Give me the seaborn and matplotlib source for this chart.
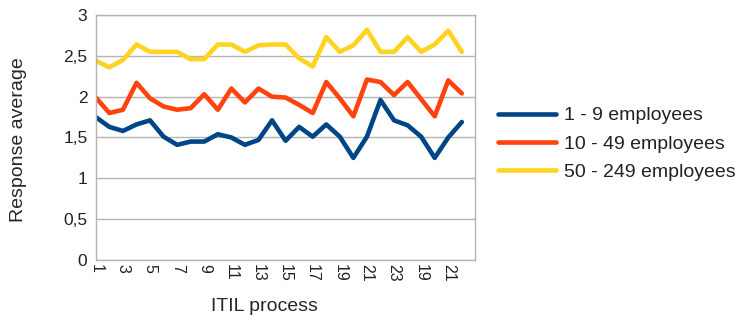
import numpy as np
import pandas as pd
import matplotlib
matplotlib.use("Agg")
import matplotlib.pyplot as plt
import seaborn as sns

# ITIL process labels as they appear on the x axis
processes = [str(i) for i in range(1, 24)] + ["18", "19", "20", "21", "22"]

small = [1.75, 1.63, 1.58, 1.66, 1.71, 1.51, 1.41, 1.45, 1.45, 1.54,
         1.50, 1.41, 1.47, 1.71, 1.46, 1.63, 1.51, 1.66, 1.51, 1.25,
         1.51, 1.96, 1.71, 1.65, 1.51, 1.25, 1.50, 1.69]
medium = [1.99, 1.80, 1.84, 2.17, 1.98, 1.88, 1.84, 1.86, 2.03, 1.84,
          2.10, 1.93, 2.10, 2.00, 1.99, 1.90, 1.80, 2.18, 1.98, 1.76,
          2.21, 2.18, 2.02, 2.18, 1.97, 1.76, 2.20, 2.04]
large = [2.44, 2.36, 2.45, 2.64, 2.55, 2.55, 2.55, 2.46, 2.46, 2.64,
         2.64, 2.55, 2.63, 2.64, 2.64, 2.47, 2.37, 2.73, 2.55, 2.63,
         2.82, 2.55, 2.55, 2.73, 2.55, 2.64, 2.81, 2.55]

series_names = ["1 - 9 employees", "10 - 49 employees", "50 - 249 employees"]
colors = ["#004586", "#ff420e", "#ffd320"]

rows = []
for name, vals in zip(series_names, [small, medium, large]):
    for i, v in enumerate(vals):
        rows.append({"pos": i, "process": processes[i], "value": v, "size": name})
df = pd.DataFrame(rows)

sns.set_style("white")
plt.rcParams['font.family'] = ['Liberation Sans', 'DejaVu Sans']
plt.rcParams['text.color'] = '#222222'

fig, ax = plt.subplots(figsize=(7.37, 3.22), dpi=100)
fig.subplots_adjust(left=0.130, right=0.645, top=0.953, bottom=0.193)

sns.lineplot(data=df, x="pos", y="value", hue="size", palette=colors,
             linewidth=3.3, ax=ax, legend=True)

ax.set_xlim(0, len(processes))
ax.set_ylim(0, 3)
ax.set_yticks(np.arange(0, 3.01, 0.5))
ax.set_yticklabels(["0", "0,5", "1", "1,5", "2", "2,5", "3"], fontsize=12.5)
ticks = list(range(0, len(processes), 2))
ax.set_xticks(ticks)
ax.set_xticklabels([processes[t] for t in ticks], rotation=-90, fontsize=11.5)
ax.tick_params(axis="both", length=3, color="#b3b3b3", pad=3, labelcolor="#222222")
ax.tick_params(axis="x", length=0)

ax.grid(axis="y", color="#b3b3b3", linewidth=1)
for s in ax.spines.values():
    s.set_color("#b3b3b3")
    s.set_linewidth(1)

ax.set_xlabel("ITIL process", fontsize=14)
ax.set_ylabel("Response average", fontsize=14)
ax.xaxis.set_label_coords(0.445, -0.155)
ax.yaxis.set_label_coords(-0.18, 0.49)

handles, labels = ax.get_legend_handles_labels()
ax.legend(handles, labels, loc="center left", bbox_to_anchor=(0.652, 0.553),
          bbox_transform=fig.transFigure, frameon=False, fontsize=14,
          handlelength=3.0, labelspacing=0.55, handletextpad=0.4)

fig.savefig("out.png", dpi=100)
